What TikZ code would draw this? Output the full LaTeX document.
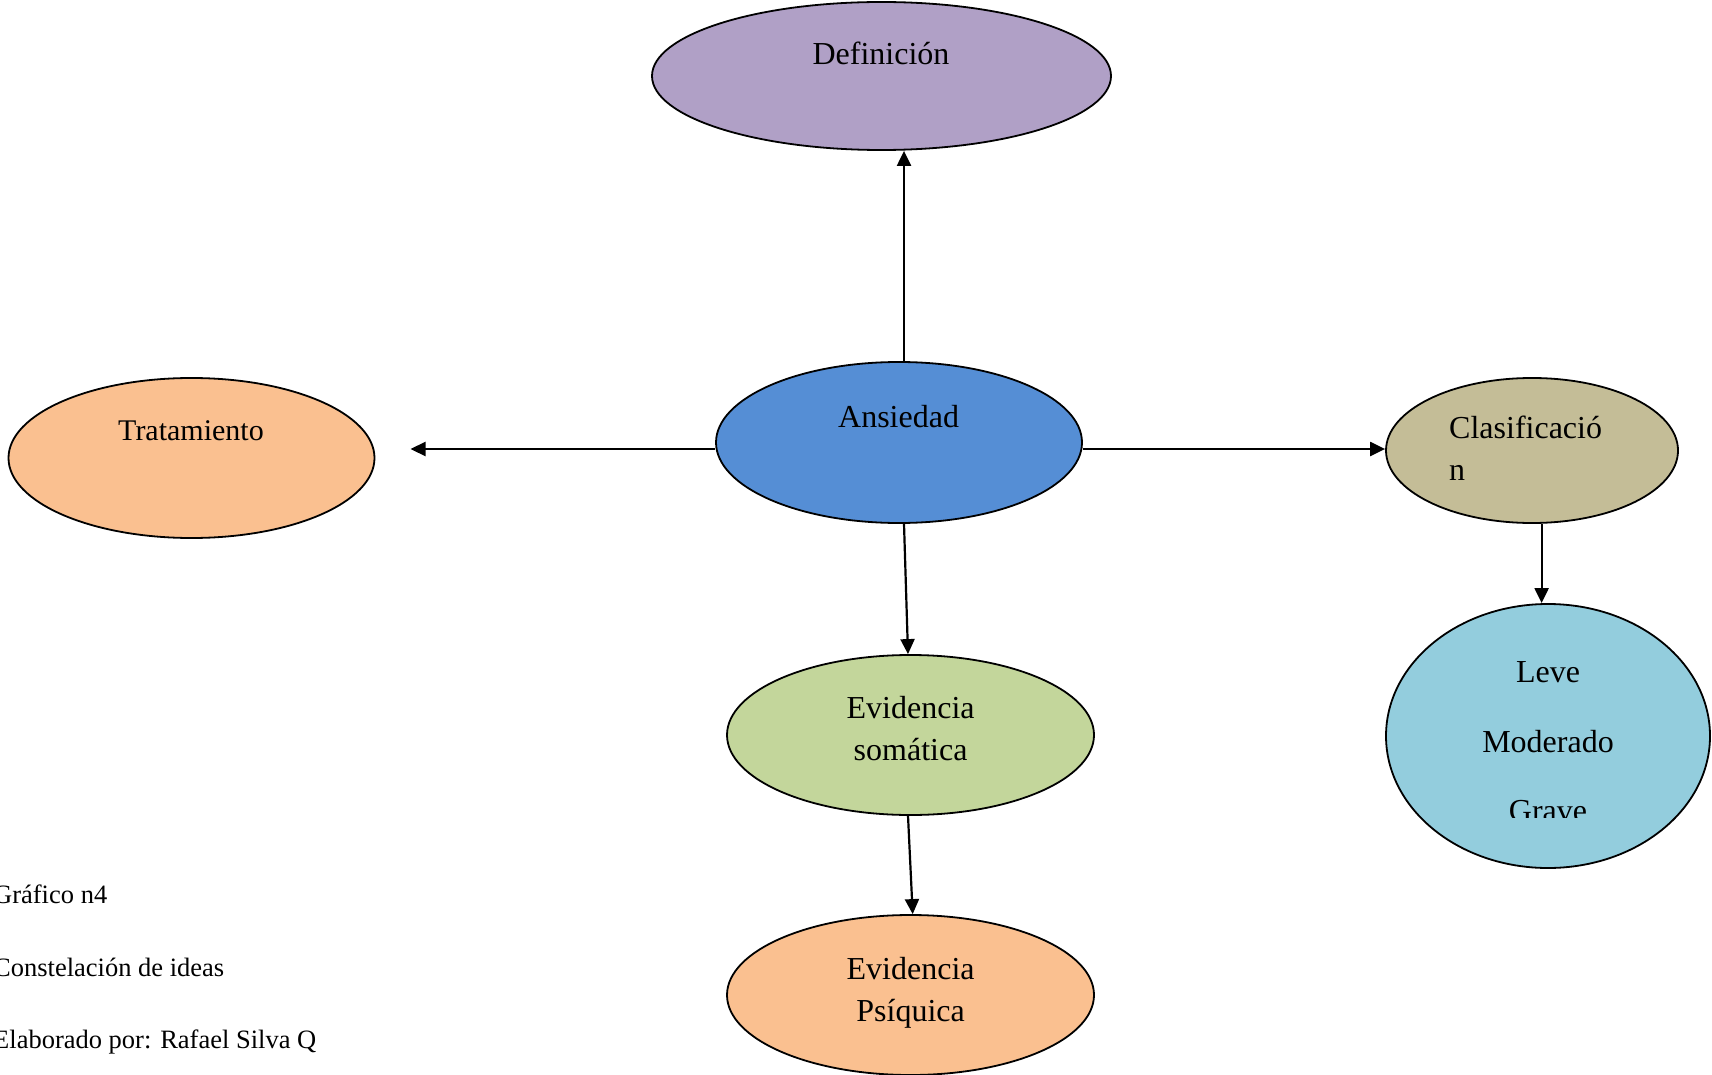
\documentclass[tikz,border=0pt]{standalone}
\usepackage{fontspec}
\setmainfont{Liberation Serif}
\usetikzlibrary{shapes.geometric,arrows.meta}

\definecolor{cDef}{RGB}{176,160,198}
\definecolor{cAns}{RGB}{85,142,213}
\definecolor{cTra}{RGB}{250,192,144}
\definecolor{cCla}{RGB}{196,189,151}
\definecolor{cLev}{RGB}{147,205,221}
\definecolor{cSom}{RGB}{195,214,155}

\tikzset{
  blob/.style={ellipse, draw=black, line width=1.8pt, inner sep=0pt},
  lbl/.style={anchor=base, inner sep=0pt, font=\fontsize{32}{38}\selectfont},
  lbll/.style={anchor=base west, inner sep=0pt, font=\fontsize{32}{38}\selectfont},
  note/.style={anchor=base west, inner sep=0pt, font=\fontsize{26.5}{31}\selectfont},
  arr/.style={line width=2.2pt, -{Triangle[length=15pt,width=14pt]}}
}

\begin{document}
\begin{tikzpicture}[x=1pt, y=-1pt]
\useasboundingbox (0,0) rectangle (1712,1075);
\clip (0,0) rectangle (1712,1075);
\fill[white] (0,0) rectangle (1712,1075);

% ellipses
\node[blob, fill=cDef, minimum width=459pt, minimum height=148pt] (def) at (881.5,76) {};
\node[blob, fill=cAns, minimum width=366pt, minimum height=161pt] (ans) at (899,442.5) {};
\node[blob, fill=cTra, minimum width=366pt, minimum height=160pt] (tra) at (191.5,458) {};
\node[blob, fill=cCla, minimum width=292pt, minimum height=145pt] (cla) at (1532,450.5) {};
\node[blob, fill=cLev, minimum width=324pt, minimum height=264pt] (lev) at (1548,736) {};
\node[blob, fill=cSom, minimum width=367pt, minimum height=160pt] (som) at (910.5,735) {};
\node[blob, fill=cTra, minimum width=367pt, minimum height=160pt] (psi) at (910.5,995) {};

% labels
\node[lbl] (tDef) at (881,65) {Definición};
\node[lbl] (tAns) at (898.6,427) {Ansiedad};
\node[lbl, font=\fontsize{30}{36}\selectfont] (tTra) at (191,440) {Tratamiento};
\node[lbll] (tCla1) at (1449,438) {Clasificació};
\node[lbll] (tCla2) at (1449,480) {n};
\node[lbl] (tLev1) at (1548,682.7) {Leve};
\node[lbl] (tLev2) at (1548,752.3) {Moderado};
\begin{scope}
  \clip (1380,590) rectangle (1712,817.7);
  \node[lbl] (tLev3) at (1548,821) {Grave};
\end{scope}
\node[lbl] (tSom1) at (910.6,718.6) {Evidencia};
\node[lbl] (tSom2) at (910.6,760) {somática};
\node[lbl] (tPsi1) at (910.6,979.5) {Evidencia};
\node[lbl] (tPsi2) at (910.6,1021) {Psíquica};

% caption lines
\node[note] (n1) at (-7,903) {Gráfico n4};
\node[note] (n2) at (-7,976.5) {Constelación de ideas};
\node[note] (n3) at (-7,1048.5) {Elaborado por: Rafael Silva Q};

% connectors
\coordinate (aUp) at ([xshift=5pt]ans.north);
\draw[arr] (aUp) -- (aUp |- def.south);
\coordinate (aL) at ([yshift=-6.5pt]ans.west);
\coordinate (tipL) at (410.5,449);
\draw[arr] (aL) -- (tipL);
\coordinate (aR) at ([yshift=-6.5pt]ans.east);
\draw[arr] (aR) -- (aR -| cla.west);
\draw[arr] ([xshift=5pt]ans.south) -- ([xshift=-2.5pt]som.north);
\draw[arr] ([xshift=-2.5pt]som.south) -- ([xshift=2.2pt]psi.north);
\coordinate (cDn) at ([xshift=9.6pt]cla.south);
\draw[arr] (cDn) -- (cDn |- lev.north);
\end{tikzpicture}
\end{document}
